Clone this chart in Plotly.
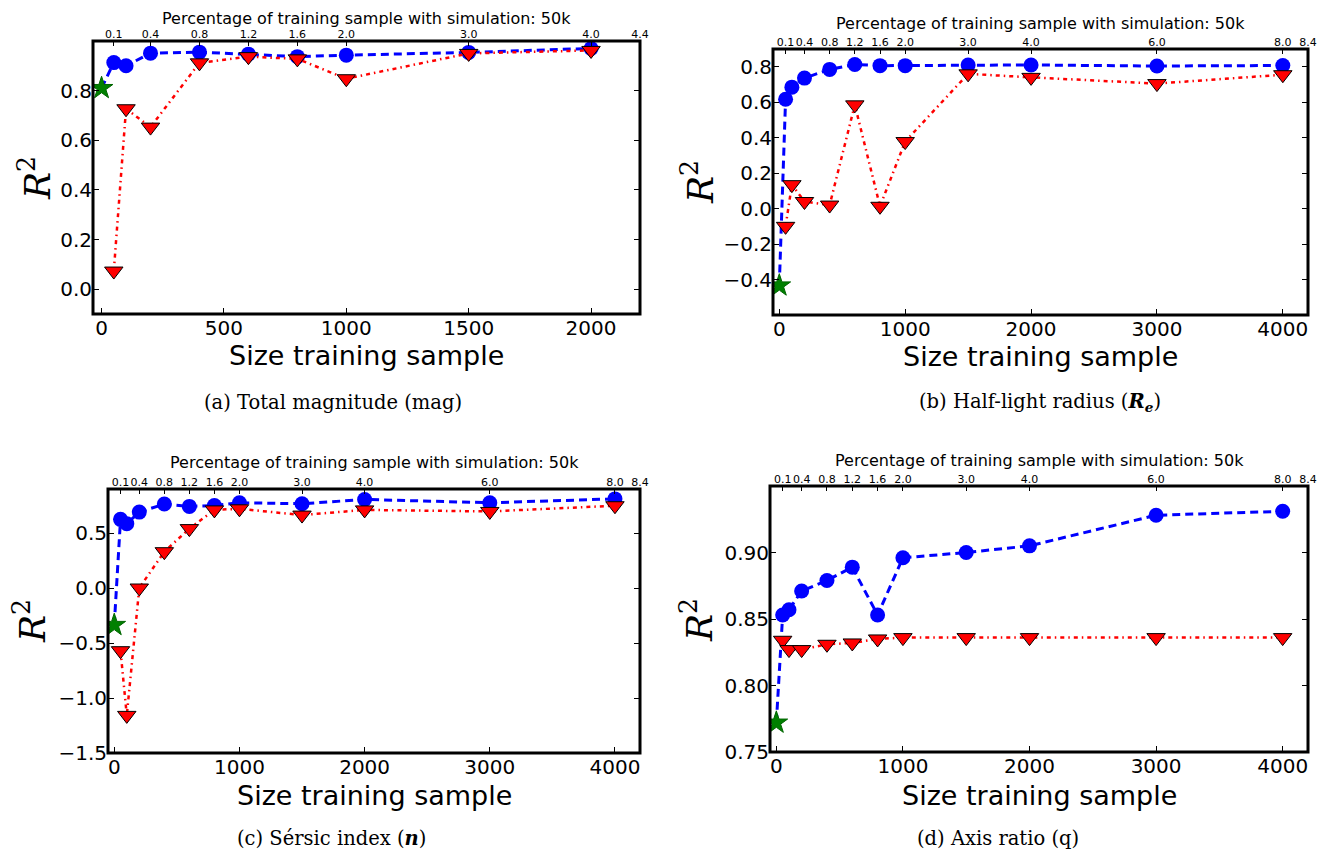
import plotly.graph_objects as go

W, H = 1327, 854
OFF = 8  # the page body adds an 8px margin around the figure

# ---------------- data ----------------
N_a = [50, 100, 200, 400, 600, 800, 1000, 1500, 2000]
N_bcd = [50, 100, 200, 400, 600, 800, 1000, 1500, 2000, 3000, 4000]
star_x = [0]

blue_a = [0.913, 0.900, 0.951, 0.955, 0.947, 0.937, 0.943, 0.954, 0.970]
red_a = [0.073, 0.727, 0.653, 0.912, 0.937, 0.928, 0.848, 0.950, 0.962]
star_a = [0.81]

blue_b = [0.617, 0.685, 0.736, 0.785, 0.813, 0.806, 0.806, 0.810, 0.810, 0.804, 0.807]
red_b = [-0.10, 0.135, 0.04, 0.02, 0.585, 0.013, 0.378, 0.76, 0.74, 0.705, 0.755]
star_b = [-0.434]

blue_c = [0.624, 0.585, 0.690, 0.763, 0.742, 0.750, 0.775, 0.766, 0.805, 0.775, 0.810]
red_c = [-0.57, -1.158, 0.0, 0.33, 0.54, 0.71, 0.72, 0.663, 0.71, 0.696, 0.748]
star_c = [-0.337]

blue_d = [0.853, 0.857, 0.871, 0.879, 0.889, 0.853, 0.896, 0.900, 0.905, 0.928, 0.931]
red_d = [0.834, 0.827, 0.827, 0.831, 0.832, 0.835, 0.836, 0.836, 0.836, 0.836, 0.836]
star_d = [0.772]

top_vals_a = [50, 200, 400, 600, 800, 1000, 1500, 2000, 2200]
top_text_a = ["0.1", "0.4", "0.8", "1.2", "1.6", "2.0", "3.0", "4.0", "4.4"]
top_vals_bcd = [50, 200, 400, 600, 800, 1000, 1500, 2000, 3000, 4000, 4200]
top_text_bcd = ["0.1", "0.4", "0.8", "1.2", "1.6", "2.0", "3.0", "4.0", "6.0", "8.0", "8.4"]

bottom_ticks_a = [0, 500, 1000, 1500, 2000]
bottom_ticks_bcd = [0, 1000, 2000, 3000, 4000]

y_ticks_a = [0.0, 0.2, 0.4, 0.6, 0.8]
y_ticks_b = [-0.4, -0.2, 0.0, 0.2, 0.4, 0.6, 0.8]
y_ticks_c = [-1.5, -1.0, -0.5, 0.0, 0.5]
y_ticks_d = [0.75, 0.80, 0.85, 0.90]

captions = [
    "(a) Total magnitude (mag)",
    "(b) Half-light radius (<b><i>R<sub>e</sub></i></b>)",
    "(c) Sérsic index (<b><i>n</i></b>)",
    "(d) Axis ratio (q)",
]
xtitle = "Size training sample"
toptitle = "Percentage of training sample with simulation: 50k"
ylabel = "<i>R</i><sup>2</sup>"

# ---------------- layout geometry (pixels in the reference picture) ----------------
panels = [
    dict(box=(93, 640, 41, 314), xr=[-35, 2200], yr=[-0.1, 1.0], yt=y_ticks_a, yfmt=".1f",
         N=N_a, blue=blue_a, red=red_a, star=star_a, tv=top_vals_a, tt=top_text_a, bt=bottom_ticks_a,
         ylab=(35, 178), toptit=18, xtit=355, cap=(333, 403)),
    dict(box=(773, 1308, 49, 315), xr=[-50, 4200], yr=[-0.6, 0.9], yt=y_ticks_b, yfmt=".1f",
         N=N_bcd, blue=blue_b, red=red_b, star=star_b, tv=top_vals_bcd, tt=top_text_bcd, bt=bottom_ticks_bcd,
         ylab=(698, 182), toptit=23, xtit=356, cap=(1040, 403)),
    dict(box=(108, 640, 489, 753), xr=[-50, 4200], yr=[-1.5, 0.9], yt=y_ticks_c, yfmt=".1f",
         N=N_bcd, blue=blue_c, red=red_c, star=star_c, tv=top_vals_bcd, tt=top_text_bcd, bt=bottom_ticks_bcd,
         ylab=(30, 621), toptit=462, xtit=795, cap=(331, 838)),
    dict(box=(770, 1308, 486, 752), xr=[-50, 4200], yr=[0.75, 0.95], yt=y_ticks_d, yfmt=".2f",
         N=N_bcd, blue=blue_d, red=red_d, star=star_d, tv=top_vals_bcd, tt=top_text_bcd, bt=bottom_ticks_bcd,
         ylab=(697, 620), toptit=460, xtit=795, cap=(998, 838)),
]

BLUE = "#0000ff"
RED = "#ff0000"
GREEN = "#008000"
TICKFONT = dict(family="DejaVu Sans", size=20, color="black")

fig = go.Figure()
layout = dict(
    width=W, height=H,
    margin=dict(l=0, r=0, t=0, b=0, autoexpand=False),
    paper_bgcolor="white", plot_bgcolor="white",
    showlegend=False,
    shapes=[], annotations=[],
)

def fx(px):
    return (px - OFF) / W

def fy(py):
    return 1 - (py - OFF) / H

for i, p in enumerate(panels, start=1):
    sx = "" if i == 1 else str(i)
    xa, ya, xt = f"x{sx}", f"y{sx}", f"x{i + 4}"
    x0, x1, y0, y1 = p["box"]

    # blue: dashed with circles (line starts at the star point)
    fig.add_trace(go.Scatter(
        x=star_x + p["N"], y=p["star"] + p["blue"], xaxis=xa, yaxis=ya, mode="lines",
        line=dict(color=BLUE, width=3, dash="8px,5px"), hoverinfo="skip"))
    fig.add_trace(go.Scatter(
        x=p["N"], y=p["blue"], xaxis=xa, yaxis=ya, mode="markers",
        marker=dict(symbol="circle", size=15, color=BLUE, line=dict(width=0)), hoverinfo="skip"))
    # red: dash-dot with triangles
    fig.add_trace(go.Scatter(
        x=p["N"], y=p["red"], xaxis=xa, yaxis=ya, mode="lines+markers",
        line=dict(color=RED, width=2.5, dash="4px,4px,1.5px,4px"),
        marker=dict(symbol="triangle-down", size=16, color=RED, line=dict(color="black", width=1)),
        hoverinfo="skip"))
    # green star
    fig.add_trace(go.Scatter(
        x=star_x, y=p["star"], xaxis=xa, yaxis=ya, mode="markers",
        marker=dict(symbol="star", size=17, color=GREEN, line=dict(color="#006400", width=1)),
        hoverinfo="skip"))
    # dummy trace for top axis
    fig.add_trace(go.Scatter(
        x=p["tv"], y=[None] * len(p["tv"]), xaxis=xt, yaxis=ya, mode="markers",
        hoverinfo="skip"))

    dom_x = [fx(x0), fx(x1)]
    dom_y = [fy(y1), fy(y0)]
    layout[f"xaxis{sx}"] = dict(
        domain=dom_x, anchor=ya, range=p["xr"], tickvals=p["bt"],
        ticks="inside", ticklen=6, tickwidth=1, tickcolor="black", automargin=False,
        tickfont=TICKFONT, showgrid=False, zeroline=False, showline=False)
    layout[f"yaxis{sx}"] = dict(
        domain=dom_y, anchor=xa, range=p["yr"], tickvals=p["yt"],
        tickformat=p["yfmt"], ticks="inside", ticklen=6, tickwidth=1, tickcolor="black",
        mirror="ticks", tickfont=TICKFONT, showgrid=False, zeroline=False, showline=False,
        automargin=False)
    layout[f"xaxis{i + 4}"] = dict(
        overlaying=xa, anchor=ya, side="top", range=p["xr"], tickangle=0,
        tickvals=p["tv"], ticktext=p["tt"], ticks="inside", ticklen=5, tickwidth=1,
        tickcolor="black", tickfont=dict(family="DejaVu Sans", size=11, color="black"),
        showgrid=False, zeroline=False, showline=False, automargin=False)

    layout["shapes"].append(dict(
        type="rect", xref=f"{xa} domain", yref=f"{ya} domain",
        x0=0, x1=1, y0=0, y1=1, line=dict(color="black", width=3), layer="above"))

    cx = (x0 + x1) / 2
    layout["annotations"] += [
        dict(text=toptitle, x=fx(cx), y=fy(p["toptit"]), xref="paper", yref="paper",
             xanchor="center", yanchor="middle", showarrow=False, borderpad=0,
             font=dict(family="DejaVu Sans", size=16, color="black")),
        dict(text=xtitle, x=fx(cx), y=fy(p["xtit"]), xref="paper", yref="paper",
             xanchor="center", yanchor="middle", showarrow=False,
             font=dict(family="DejaVu Sans", size=27, color="black")),
        dict(text=ylabel, x=fx(p["ylab"][0]), y=fy(p["ylab"][1]), xref="paper", yref="paper",
             xanchor="center", yanchor="middle", showarrow=False, textangle=-90,
             font=dict(family="DejaVu Serif", size=36, color="black")),
        dict(text=captions[i - 1], x=fx(p["cap"][0]), y=fy(p["cap"][1]), xref="paper", yref="paper",
             xanchor="center", yanchor="middle", showarrow=False,
             font=dict(family="DejaVu Serif", size=19.5, color="black")),
    ]

fig.update_layout(**layout)
fig.write_html("out.html")
